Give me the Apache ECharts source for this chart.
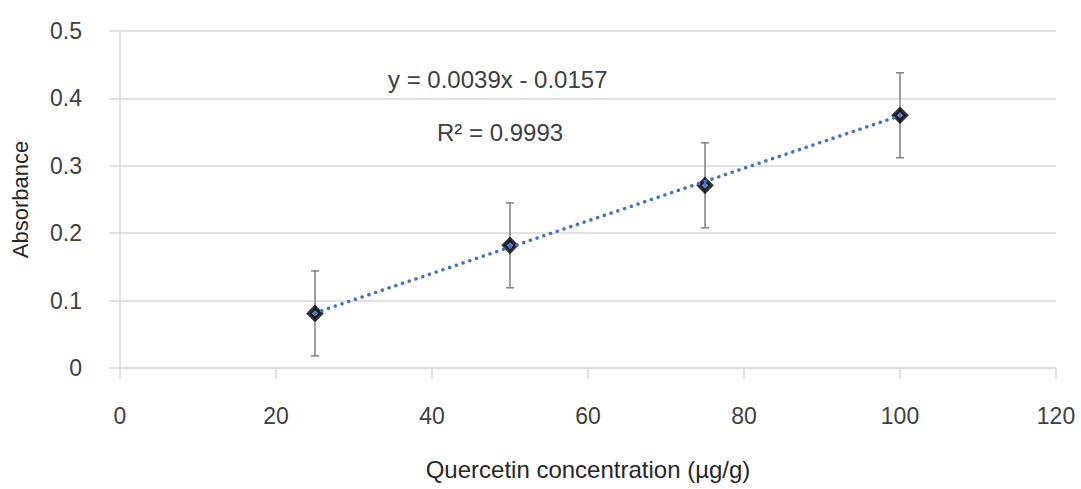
<!DOCTYPE html>
<html>
<head>
<meta charset="utf-8">
<script src="https://cdn.jsdelivr.net/npm/echarts@6/dist/echarts.min.js"></script>
<style>
  html, body { margin: 0; padding: 0; background: #fff; }
  #chart { width: 1081px; height: 489px; }
</style>
</head>
<body>
<div id="chart"></div>
<script>
(function() {
  // concentration (µg/g) and mean absorbance
  var concentration = [25, 50, 75, 100];
  var absorbance = [0.081, 0.182, 0.271, 0.375];
  var errorSize = [0.063, 0.063, 0.063, 0.063];
  // trendline from the reported fit
  var slope = 0.0039;
  var intercept = -0.0157;
  var xTicks = [0, 20, 40, 60, 80, 100, 120];

  var ink = '#404040';
  var titleInk = '#262626';
  var gridColor = '#d9d9d9';
  var font = 'Liberation Sans, Arial, sans-serif';

  var points = concentration.map(function(x, i) { return [x, absorbance[i]]; });
  var errData = concentration.map(function(x, i) {
    return [x, absorbance[i] - errorSize[i], absorbance[i] + errorSize[i]];
  });
  var xFirst = concentration[0], xLast = concentration[concentration.length - 1];
  var trend = [[xFirst, slope * xFirst + intercept], [xLast, slope * xLast + intercept]];

  var chart = echarts.init(document.getElementById('chart'), null, { renderer: 'svg' });
  chart.setOption({
    animation: false,
    grid: { left: 120, right: 25, top: 31, bottom: 121, outerBoundsMode: 'none' },
    xAxis: {
      type: 'value', min: xTicks[0], max: xTicks[xTicks.length - 1], interval: 20,
      name: 'Quercetin concentration (µg/g)', nameLocation: 'middle', nameGap: 89,
      nameTextStyle: { color: titleInk, fontSize: 24, fontFamily: font },
      axisLine: { show: true, lineStyle: { color: gridColor, width: 1.5 } },
      axisTick: { show: true, length: 11, lineStyle: { color: gridColor, width: 1.5 } },
      axisLabel: { color: ink, fontSize: 23, fontFamily: font, margin: 36 },
      splitLine: { show: false }
    },
    yAxis: {
      type: 'value', min: 0, max: 0.5, interval: 0.1,
      name: 'Absorbance', nameLocation: 'middle', nameGap: 89,
      nameTextStyle: { color: titleInk, fontSize: 22, fontFamily: font },
      axisLine: { show: true, lineStyle: { color: gridColor, width: 1.5 } },
      axisTick: { show: true, length: 11, lineStyle: { color: gridColor, width: 1.5 } },
      axisLabel: { color: ink, fontSize: 23, fontFamily: font, margin: 38 },
      splitLine: { show: true, lineStyle: { color: gridColor, width: 1.5 } }
    },
    graphic: [
      { type: 'text', left: 388, top: 67,
        style: { text: 'y = 0.0039x - 0.0157', fill: ink, fontSize: 24, fontFamily: font } },
      { type: 'text', left: 437, top: 120,
        style: { text: 'R² = 0.9993', fill: ink, fontSize: 24, fontFamily: font } }
    ],
    series: [
      {
        type: 'custom',
        data: errData,
        z: 2,
        renderItem: function(params, api) {
          var x = api.value(0);
          var lo = api.coord([x, api.value(1)]);
          var hi = api.coord([x, api.value(2)]);
          var cap = 4;
          var st = { stroke: '#808080', lineWidth: 1.5 };
          return {
            type: 'group',
            children: [
              { type: 'line', shape: { x1: lo[0], y1: lo[1], x2: hi[0], y2: hi[1] }, style: st },
              { type: 'line', shape: { x1: lo[0] - cap, y1: lo[1], x2: lo[0] + cap, y2: lo[1] }, style: st },
              { type: 'line', shape: { x1: hi[0] - cap, y1: hi[1], x2: hi[0] + cap, y2: hi[1] }, style: st }
            ]
          };
        }
      },
      {
        type: 'scatter',
        data: points,
        symbol: 'diamond',
        symbolSize: 12,
        z: 3,
        itemStyle: { color: '#4472C4', borderColor: '#000', borderWidth: 4 }
      },
      {
        type: 'line',
        data: trend,
        symbol: 'none',
        z: 4,
        lineStyle: { color: '#4472C4', width: 3.5, type: [0.1, 7], cap: 'round' }
      }
    ]
  });
  window.addEventListener('resize', function() { chart.resize(); });
})();
</script>
</body>
</html>
